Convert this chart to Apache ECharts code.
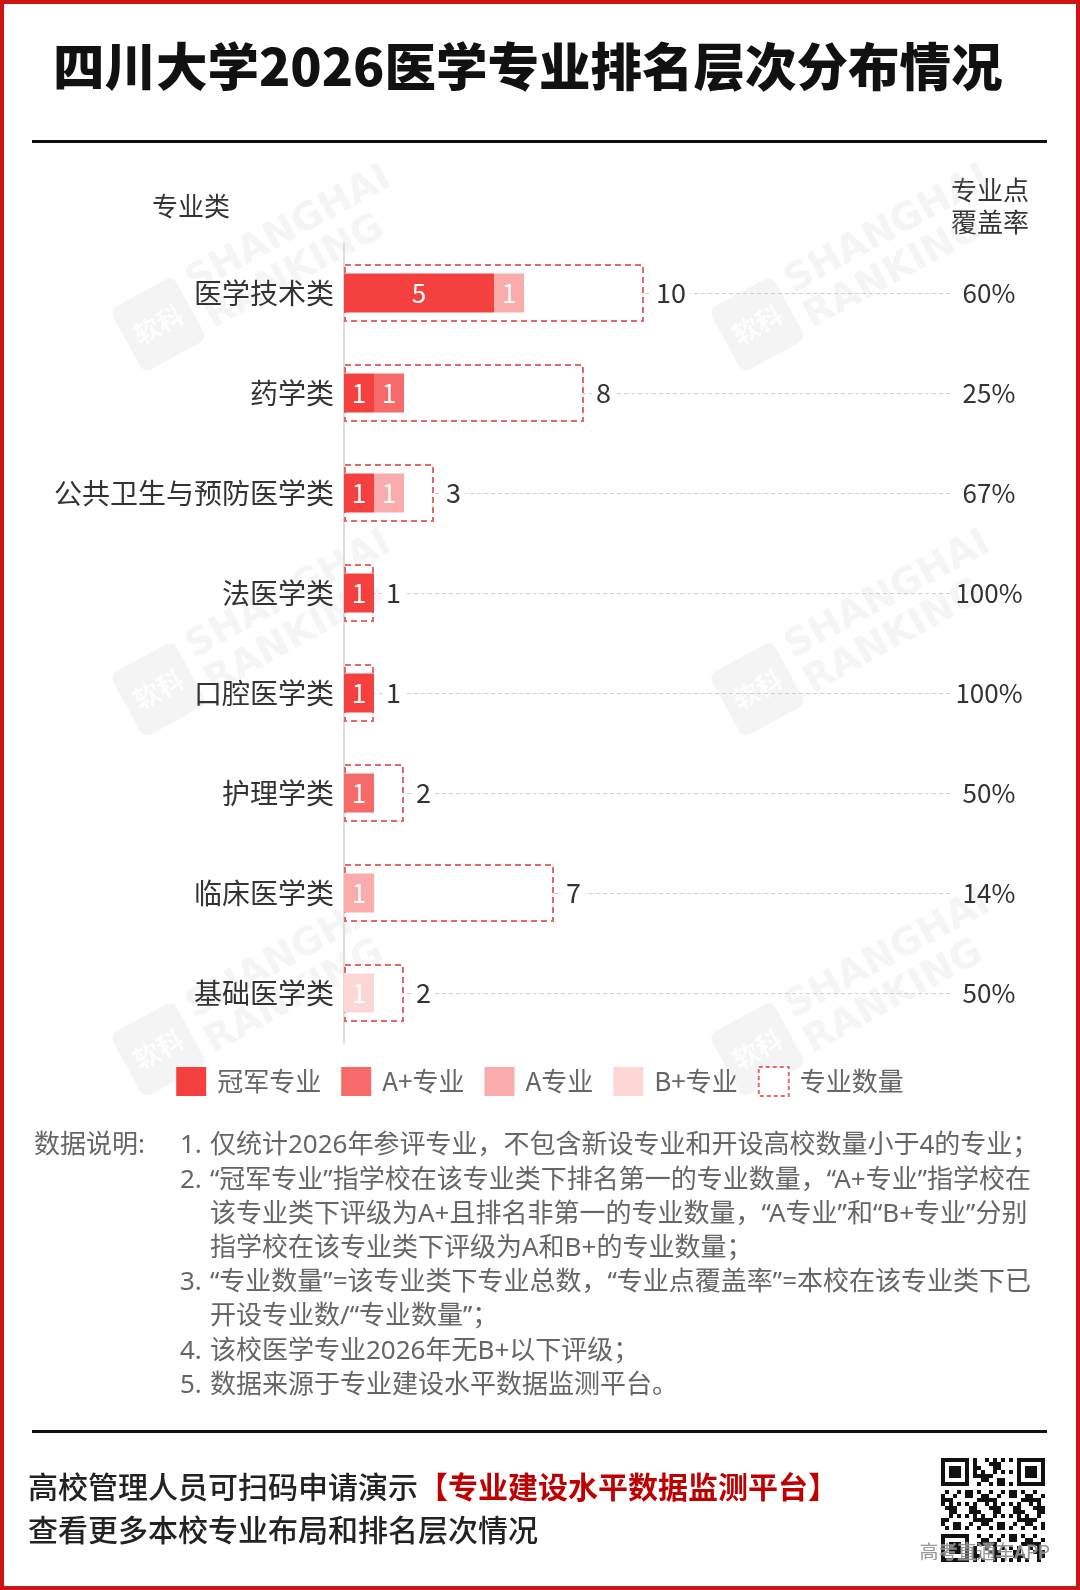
<!DOCTYPE html>
<html><head><meta charset="utf-8">
<script src="https://cdn.jsdelivr.net/npm/echarts@6/dist/echarts.min.js"></script>
<style>html,body{margin:0;padding:0;background:#fff}#c{width:1080px;height:1590px}</style>
</head><body><div id="c"></div>
<script>
const categories = ['医学技术类','药学类','公共卫生与预防医学类','法医学类','口腔医学类','护理学类','临床医学类','基础医学类'];
const champion = [5,1,1,1,1,0,0,0];
const aPlus    = [0,1,0,0,0,1,0,0];
const aGrade   = [1,0,1,0,0,0,1,0];
const bPlus    = [0,0,0,0,0,0,0,1];
const totals   = [10,8,3,1,1,2,7,2];
const coverage = ['60%','25%','67%','100%','100%','50%','14%','50%'];
const legendNames = ['冠军专业','A+专业','A专业','B+专业','专业数量'];
const notes = [
  ['1.','仅统计2026年参评专业，不包含新设专业和开设高校数量小于4的专业；'],
  ['2.','“冠军专业”指学校在该专业类下排名第一的专业数量，“A+专业”指学校在'],
  ['','该专业类下评级为A+且排名非第一的专业数量，“A专业”和“B+专业”分别'],
  ['','指学校在该专业类下评级为A和B+的专业数量；'],
  ['3.','“专业数量”=该专业类下专业总数，“专业点覆盖率”=本校在该专业类下已'],
  ['','开设专业数/“专业数量”；'],
  ['4.','该校医学专业2026年无B+以下评级；'],
  ['5.','数据来源于专业建设水平数据监测平台。']
];

const FONT = '"Noto Sans CJK SC","Noto Sans",sans-serif';
const NOTE_FONT = '"Noto Sans","Noto Sans CJK SC",sans-serif';
const COLORS = ['#f4403f','#f66a6a','#faabab','#fdd6d6'];
const BOX = '#e46a6a';
const X_MAX = 21.5, GUIDE_END = 20.2;

const chart = echarts.init(document.getElementById('c'), null, {renderer:'canvas'});

function stackSeries(name, data, color){
  return {
    name, type:'bar', stack:'lv', yAxisIndex:0, xAxisIndex:0, barWidth:39, z:3,
    data, itemStyle:{color},
    label:{show:true, position:'inside', color:'#fff', fontSize:26, fontFamily:FONT,
      formatter:p=>p.value>0?String(p.value):''},
    emphasis:{disabled:true}
  };
}

const g = [];
g.push({type:'rect', shape:{x:2,y:2,width:1076,height:1586}, style:{fill:'none',stroke:'#cf1414',lineWidth:4}, silent:true});
g.push({type:'text', left:53, top:41, style:{text:'四川大学2026医学专业排名层次分布情况', font:'900 51.5px '+FONT, fill:'#111'}});
g.push({type:'rect', shape:{x:32,y:140,width:1015,height:3}, style:{fill:'#111'}});
g.push({type:'rect', shape:{x:32,y:1430,width:1015,height:3}, style:{fill:'#111'}});
g.push({type:'text', x:152, y:206, style:{text:'专业类', font:'26px '+FONT, fill:'#333', verticalAlign:'middle'}});
g.push({type:'text', x:990, y:190, style:{text:'专业点', font:'26px '+FONT, fill:'#333', align:'center', verticalAlign:'middle'}});
g.push({type:'text', x:990, y:222, style:{text:'覆盖率', font:'26px '+FONT, fill:'#333', align:'center', verticalAlign:'middle'}});

// watermarks
const wm = [[238,274],[837,274],[238,639],[837,639],[238,999],[837,999]];
wm.forEach(([cx,cy])=>{
  g.push({type:'group', x:cx, y:cy, rotation:0.5, z:-5, silent:true, children:[
    {type:'rect', shape:{x:-130,y:-30,width:72,height:72,r:8}, style:{fill:'rgba(200,200,200,0.2)'}},
    {type:'text', x:-94, y:6, style:{text:'软科', font:'bold 26px '+FONT, fill:'rgba(255,255,255,0.9)', align:'center', verticalAlign:'middle'}},
    {type:'text', x:-48, y:-14, style:{text:'SHANGHAI', font:'bold 38px "DejaVu Sans",sans-serif', fill:'rgba(200,200,200,0.18)', verticalAlign:'middle'}},
    {type:'text', x:-48, y:26, style:{text:'RANKING', font:'bold 38px "DejaVu Sans",sans-serif', fill:'rgba(200,200,200,0.18)', verticalAlign:'middle'}}
  ]});
});

// notes
const noteY0 = 1146, noteStep = 34.2;
g.push({type:'text', x:34, y:noteY0, style:{text:'数据说明:', font:'26px '+NOTE_FONT, fill:'#666', verticalAlign:'middle'}});
notes.forEach((n,i)=>{
  const y = noteY0 + i*noteStep;
  if(n[0]) g.push({type:'text', x:180, y, style:{text:n[0], font:'26px '+NOTE_FONT, fill:'#666', verticalAlign:'middle'}});
  g.push({type:'text', x:210, y, style:{text:n[1], font:'26px '+NOTE_FONT, fill:'#666', verticalAlign:'middle'}});
});

// footer
g.push({type:'text', x:28, y:1487, style:{
  text:'{a|高校管理人员可扫码申请演示}{b|【专业建设水平数据监测平台】}', verticalAlign:'middle',
  rich:{a:{fontSize:30, fontFamily:FONT, fontWeight:500, fill:'#222'}, b:{fontSize:30, fontFamily:FONT, fontWeight:'bold', fill:'#c00000'}}}});
g.push({type:'text', x:28, y:1530, style:{text:'查看更多本校专业布局和排名层次情况', font:'500 30px '+FONT, fill:'#222', verticalAlign:'middle'}});

// decorative QR-like block
const qx=941, qy=1458, M=4, N=26;
const qr=[];
function finder(cx,cy){
  qr.push({type:'rect', shape:{x:qx+cx*M,y:qy+cy*M,width:7*M,height:7*M}, style:{fill:'#111'}});
  qr.push({type:'rect', shape:{x:qx+(cx+1)*M,y:qy+(cy+1)*M,width:5*M,height:5*M}, style:{fill:'#fff'}});
  qr.push({type:'rect', shape:{x:qx+(cx+2)*M,y:qy+(cy+2)*M,width:3*M,height:3*M}, style:{fill:'#111'}});
}
for(let i=0;i<N;i++){for(let j=0;j<N;j++){
  const inF=(i<8&&j<8)||(i<8&&j>=N-8)||(i>=N-8&&j<8);
  if(inF) continue;
  if(((i*31+j*17+i*j*7)%11)<5) qr.push({type:'rect', shape:{x:qx+j*M,y:qy+i*M,width:M,height:M}, style:{fill:'#111'}});
}}
finder(0,0); finder(N-7,0); finder(0,N-7);
g.push({type:'group', children:qr, silent:true});
g.push({type:'text', x:1050, y:1552, style:{text:'高考直通车APP', font:'19px '+FONT, fill:'rgba(140,140,140,0.9)', align:'right', verticalAlign:'middle', stroke:'rgba(255,255,255,0.5)', lineWidth:1}});

const guideLines = categories.map((c,i)=>[{coord:[0,i]},{coord:[GUIDE_END,i]}]);

const option = {
  animation:false,
  textStyle:{fontFamily:FONT},
  grid:{left:344, width:645, top:243, height:800, containLabel:false},
  xAxis:[{type:'value', min:0, max:X_MAX, show:false}],
  yAxis:[
    {type:'category', data:categories, inverse:true, position:'left',
     axisLine:{show:true, lineStyle:{color:'#dcdcdc', width:2}}, axisTick:{show:false},
     axisLabel:{fontSize:28, color:'#333', margin:10, fontFamily:FONT}},
    {type:'category', data:categories, inverse:true, position:'right',
     axisLine:{show:false}, axisTick:{show:false}, splitLine:{show:false},
     axisLabel:{fontSize:26, color:'#333', margin:0, align:'center', fontFamily:FONT,
       formatter:(v,i)=>coverage[i]}}
  ],
  legend:{
    left:'center', top:1061, itemWidth:30, itemHeight:29, itemGap:20,
    textStyle:{fontSize:26, color:'#666', fontFamily:FONT, padding:[0,0,0,6]},
    data:[
      {name:legendNames[0], icon:'rect'},
      {name:legendNames[1], icon:'rect'},
      {name:legendNames[2], icon:'rect'},
      {name:legendNames[3], icon:'rect'},
      {name:legendNames[4], icon:'rect', itemStyle:{color:'#fff', borderColor:BOX, borderWidth:2, borderType:[4,3]}}
    ],
    selectedMode:false
  },
  graphic:g,
  series:[
    {
      name:legendNames[4], type:'bar', yAxisIndex:1, xAxisIndex:0, barWidth:58, z:2,
      data:totals,
      itemStyle:{color:'#fff', borderColor:BOX, borderWidth:2, borderType:[6,4]},
      label:{show:true, position:'right', distance:8, color:'#333', fontSize:27, fontFamily:FONT,
        backgroundColor:'#fff', padding:[0,4]},
      emphasis:{disabled:true},
      markLine:{silent:true, z:1, symbol:'none', label:{show:false},
        lineStyle:{color:'#cfcfcf', type:[4,3], width:1}, data:guideLines}
    },
    stackSeries(legendNames[0], champion, COLORS[0]),
    stackSeries(legendNames[1], aPlus, COLORS[1]),
    stackSeries(legendNames[2], aGrade, COLORS[2]),
    stackSeries(legendNames[3], bPlus, COLORS[3])
  ]
};
chart.setOption(option);
</script></body></html>
